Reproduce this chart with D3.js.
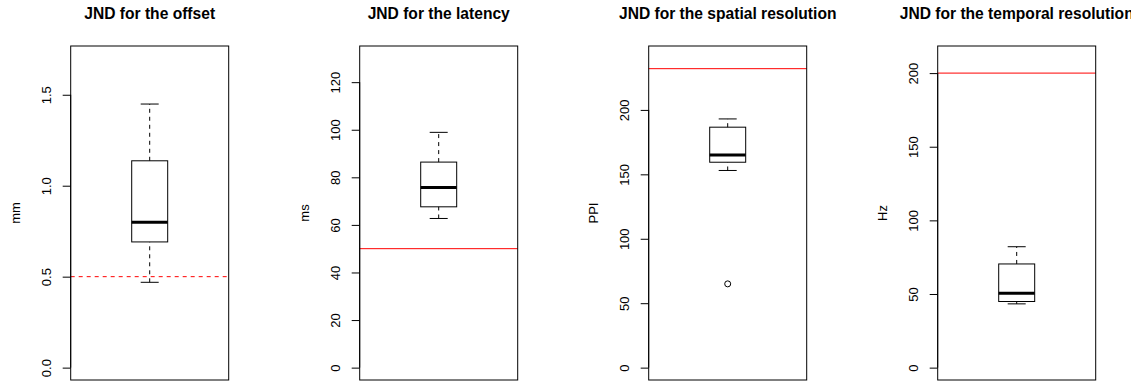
<!DOCTYPE html>
<html>
<head>
<meta charset="utf-8">
<script src="https://cdn.jsdelivr.net/npm/d3@7"></script>
<style>
  html, body { margin: 0; padding: 0; background: #fff; }
  svg { display: block; font-family: "Liberation Sans", Arial, sans-serif; }
</style>
</head>
<body>
<svg id="chart" width="1137" height="385"></svg>
<script>
// ---- data ----
const titles = ["JND for the offset", "JND for the latency", "JND for the spatial resolution", "JND for the temporal resolution"];
const units = ["mm", "ms", "PPI", "Hz"];
const yMax = [1.7, 130, 240, 210];
const tickValues = [[0, 0.5, 1.0, 1.5], [0, 20, 40, 60, 80, 100, 120], [0, 50, 100, 150, 200], [0, 50, 100, 150, 200]];
const tickLabels = [["0.0", "0.5", "1.0", "1.5"], ["0", "20", "40", "60", "80", "100", "120"], ["0", "50", "100", "150", "200"], ["0", "50", "100", "150", "200"]];
const whiskerLow = [0.469, 62.7, 153, 43.3];
const q1 = [0.691, 67.6, 159.4, 44.9];
const median = [0.799, 75.7, 165, 50.5];
const q3 = [1.137, 86.4, 186.6, 70.4];
const whiskerHigh = [1.449, 98.9, 193, 82.1];
const outliers = [[], [], [65], []];
const refValues = [0.5, 50, 232, 200];
const refDashed = [true, false, false, false];

// ---- layout ----
const svg = d3.select("#chart");
const panelStep = 289, firstLeft = 70.7, plotW = 158, plotTop = 46, plotBottom = 380;
const boxWidth = 0.246; // in x-domain units

// the source image is cut off at the right edge
svg.append("defs").append("clipPath").attr("id", "edgeClip")
  .append("rect").attr("x", 0).attr("y", 0).attr("width", 1131).attr("height", 385);

titles.forEach((title, i) => {
  const left = firstLeft + panelStep * i;
  const outer = svg.append("g").attr("clip-path", "url(#edgeClip)");
  const g = outer.append("g").attr("transform", `translate(${left},0)`);
  const x = d3.scaleLinear().domain([0.46, 1.54]).range([0, plotW]);
  const y = d3.scaleLinear().domain([-0.04 * yMax[i], 1.04 * yMax[i]]).range([plotBottom, plotTop]);

  // reference line
  g.append("line")
    .attr("x1", x(0.46)).attr("x2", x(1.54))
    .attr("y1", y(refValues[i])).attr("y2", y(refValues[i]))
    .attr("stroke", "#ff0000").attr("stroke-width", 1)
    .attr("stroke-dasharray", refDashed[i] ? "4,4" : null);

  const cx = x(1), bw = x(1 + boxWidth / 2) - x(1 - boxWidth / 2), cw = bw / 2;
  // whiskers
  [[whiskerLow[i], q1[i]], [q3[i], whiskerHigh[i]]].forEach(([a, b]) => {
    g.append("line").attr("x1", cx).attr("x2", cx).attr("y1", y(a)).attr("y2", y(b))
      .attr("stroke", "#000").attr("stroke-width", 1).attr("stroke-dasharray", "4,4");
  });
  // caps
  [whiskerLow[i], whiskerHigh[i]].forEach(v => {
    g.append("line").attr("x1", cx - cw / 2).attr("x2", cx + cw / 2).attr("y1", y(v)).attr("y2", y(v))
      .attr("stroke", "#000").attr("stroke-width", 1);
  });
  // box
  g.append("rect").attr("x", cx - bw / 2).attr("y", y(q3[i]))
    .attr("width", bw).attr("height", y(q1[i]) - y(q3[i]))
    .attr("fill", "none").attr("stroke", "#000").attr("stroke-width", 1);
  // median
  g.append("line").attr("x1", cx - bw / 2).attr("x2", cx + bw / 2)
    .attr("y1", y(median[i])).attr("y2", y(median[i]))
    .attr("stroke", "#000").attr("stroke-width", 3);
  // outliers
  outliers[i].forEach(v => {
    g.append("circle").attr("cx", cx).attr("cy", y(v)).attr("r", 3)
      .attr("fill", "none").attr("stroke", "#000").attr("stroke-width", 1);
  });

  // plot frame
  g.append("rect").attr("x", 0).attr("y", plotTop).attr("width", plotW).attr("height", plotBottom - plotTop)
    .attr("fill", "none").attr("stroke", "#000").attr("stroke-width", 1);

  // y axis
  const axis = d3.axisLeft(y).tickValues(tickValues[i]).tickSize(8)
    .tickFormat((d, k) => tickLabels[i][k]);
  const ag = g.append("g").call(axis);
  ag.select(".domain").attr("d", `M0,${y(tickValues[i][0])}V${y(tickValues[i][tickValues[i].length - 1])}`)
    .attr("stroke", "#000");
  ag.selectAll(".tick line").attr("stroke", "#000");
  ag.selectAll(".tick text")
    .attr("x", null).attr("dy", null)
    .attr("transform", "translate(-24,0) rotate(-90)")
    .attr("text-anchor", "middle").attr("dominant-baseline", "central")
    .attr("font-size", 13).attr("font-family", "Liberation Sans, Arial, sans-serif")
    .attr("fill", "#000");

  // y label
  g.append("text").attr("transform", `translate(-55,${(plotTop + plotBottom) / 2}) rotate(-90)`)
    .attr("text-anchor", "middle").attr("dominant-baseline", "central")
    .attr("font-size", 13).text(units[i]);

  // title
  g.append("text").attr("x", plotW / 2).attr("y", 19)
    .attr("text-anchor", "middle").attr("font-weight", "bold").attr("font-size", 15.6)
    .text(title);
});
</script>
</body>
</html>
